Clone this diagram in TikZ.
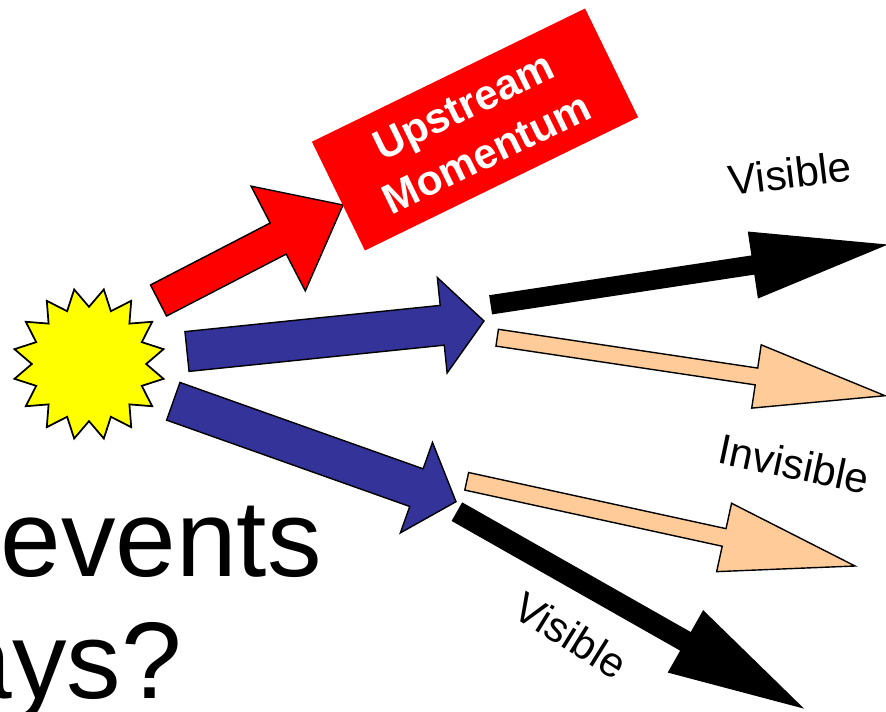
\documentclass[tikz,border=0pt]{standalone}
\usepackage{fontspec}
\setmainfont{Liberation Sans}
\usetikzlibrary{calc,shapes.geometric}

\definecolor{burstyellow}{RGB}{255,255,0}
\definecolor{boxred}{RGB}{255,0,0}
\definecolor{arrowblue}{RGB}{51,51,153}
\definecolor{peach}{RGB}{255,204,153}

% block arrow: style, tail, tip, half shaft width, half head width, head length
\newcommand{\blockarrow}[6]{%
  \coordinate (headbase) at ($(#3)!#6!(#2)$);
  \filldraw[#1] ($(#2)!#4!90:(#3)$) -- ($(headbase)!#4!90:(#3)$)
    -- ($(headbase)!#5!90:(#3)$) -- (#3)
    -- ($(headbase)!#5!-90:(#3)$) -- ($(headbase)!#4!-90:(#3)$)
    -- ($(#2)!#4!-90:(#3)$) -- cycle;}

\begin{document}
\begin{tikzpicture}[x=0.02cm, y=-0.02cm,
    bigtext/.style={font=\fontsize{62}{70}\selectfont, inner sep=0pt},
    tag/.style={font=\fontsize{24}{29}\selectfont, inner sep=0pt},
    bluearrow/.style={fill=arrowblue, draw=black, line width=0.8pt},
    redarrow/.style={fill=boxred, draw=black, line width=0.8pt},
    blackarrow/.style={fill=black, draw=black, line width=0.8pt},
    peacharrow/.style={fill=peach, draw=black, line width=0.8pt}]
    \useasboundingbox (0,0) rectangle (886,712);
    \clip (0,0) rectangle (886,712);

    % Title text, running off the left edge
    \node[bigtext, anchor=base east] (ev) at (322,577) {events};
    \node[bigtext, anchor=base east] (ays) at (182,698) {ays?};

    % The burst
    \node[star, star points=16, star point ratio=1.33, minimum size=3.04cm,
          inner sep=0pt, shape border rotate=11.25,
          fill=burstyellow, draw=black, line width=1pt] (burst) at (89,364) {};

    % Arrow ends
    \coordinate (redtail) at (158.5,300.5);
    \coordinate (redtip) at (343,205);
    \coordinate (midtail) at (187,351.5);
    \coordinate (midtip) at (484,321);
    \coordinate (lowtail) at (173.3,401.3);
    \coordinate (lowtip) at (456,501.7);
    \coordinate (vtail) at (491.3,304.7);
    \coordinate (vtip) at (885,245);
    \coordinate (itail) at (497.2,337.7);
    \coordinate (itip) at (885,395.7);
    \coordinate (jtail) at (466.7,481.3);
    \coordinate (jtip) at (855,566);
    \coordinate (wtail) at (457.5,512);
    \coordinate (wtip) at (801.7,707.3);

    % Fat arrows out of the burst
    \blockarrow{redarrow}{redtail}{redtip}{0.35cm}{1.18cm}{1.46cm}
    \blockarrow{bluearrow}{midtail}{midtip}{0.4cm}{0.96cm}{0.84cm}
    \blockarrow{bluearrow}{lowtail}{lowtip}{0.4cm}{0.96cm}{0.84cm}

    % Thin arrows
    \blockarrow{blackarrow}{vtail}{vtip}{0.18cm}{0.66cm}{2.66cm}
    \blockarrow{peacharrow}{itail}{itip}{0.17cm}{0.64cm}{2.6cm}
    \blockarrow{peacharrow}{jtail}{jtip}{0.18cm}{0.7cm}{2.68cm}
    \blockarrow{blackarrow}{wtail}{wtip}{0.2cm}{0.7cm}{2.66cm}

    % Red box
    \node[rotate=26, fill=boxred, minimum width=6.08cm, minimum height=2.42cm,
          text=white, font=\bfseries\fontsize{24}{30}\selectfont, align=center]
          (upbox) at (475,129.5) {Upstream\\Momentum};

    % Labels
    \node[tag, rotate=7] (vistop) at (790,173) {Visible};
    \node[tag, rotate=-12] (invis) at (794,464) {Invisible};
    \node[tag, rotate=-32] (vislow) at (571,635) {Visible};
\end{tikzpicture}
\end{document}
